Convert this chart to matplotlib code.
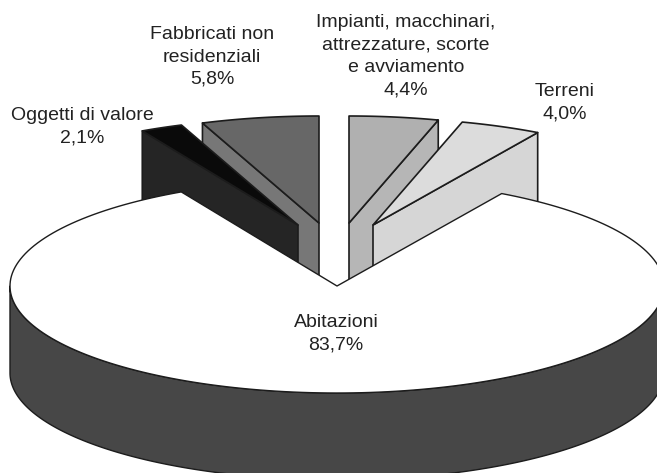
import numpy as np
import matplotlib
matplotlib.use("Agg")
import matplotlib.pyplot as plt
from matplotlib.patches import Polygon

plt.rcParams['font.family'] = ['Liberation Sans', 'DejaVu Sans']

#data, clockwise from the top of the pie
labels = ["Impianti, macchinari,\nattrezzature, scorte\ne avviamento\n4,4%",
          "Terreni\n4,0%",
          "Abitazioni\n83,7%",
          "Oggetti di valore\n2,1%",
          "Fabbricati non\nresidenziali\n5,8%"]
values = [4.4, 4.0, 83.7, 2.1, 5.8]

#styles and layout, all in pixels of the image
top_colors = ["#b0b0b0", "#dcdcdc", "#ffffff", "#0a0a0a", "#676767"]
side_colors = ["#b6b6b6", "#d6d6d6", "#474747", "#252525", "#777777"]
label_pos = [(406, 56), (565, 103), (336, 334), (82, 127), (212, 57)]
centers = [(349, 223), (373, 225), (337, 286), (298, 225), (319, 223)]
rx, ry = 327, 107
depth = 87

#function to get a point on the rim, angle in degrees
def rim(cx, cy, angle):
    a = np.radians(angle)
    return cx + rx * np.cos(a), cy - ry * np.sin(a)

#function to get the top face of a slice
def top_face(cx, cy, a1, a2):
    angles = np.linspace(a1, a2, 200)
    xs, ys = rim(cx, cy, angles)
    return np.vstack([[cx, cy], np.column_stack([xs, ys])])

#function to get the flat cut face of a slice
def cut_face(cx, cy, angle):
    x, y = rim(cx, cy, angle)
    return [(cx, cy), (x, y), (x, y + depth), (cx, cy + depth)]

fig = plt.figure(figsize=(6.57, 4.73), dpi=100)
ax = fig.add_axes([0, 0, 1, 1])
ax.set_xlim(0, 657)
ax.set_ylim(473, 0)
ax.axis("off")

#slice angles, going clockwise from 90 degrees
ends = 90 - np.cumsum(values) * 3.6
starts = np.concatenate([[90], ends[:-1]])

edge = "#1c1c1c"

def add_poly(points, color, lw=1.2):
    ax.add_patch(Polygon(points, closed=True, facecolor=color, edgecolor=edge,
                         linewidth=lw, joinstyle="round"))

#small slices, back ones first
for i in [4, 3]:
    cx, cy = centers[i]
    add_poly(cut_face(cx, cy, starts[i]), side_colors[i])
    add_poly(top_face(cx, cy, starts[i], ends[i]), top_colors[i])
for i in [0, 1]:
    cx, cy = centers[i]
    add_poly(cut_face(cx, cy, ends[i]), side_colors[i])
    add_poly(top_face(cx, cy, starts[i], ends[i]), top_colors[i])

#main slice, wall then top
cx, cy = centers[2]
wall = np.linspace(180, 360, 300)
xs, ys = rim(cx, cy, wall)
wall_points = np.vstack([np.column_stack([xs, ys + depth]),
                         np.column_stack([xs, ys])[::-1]])
add_poly(wall_points, side_colors[2], lw=1.0)
add_poly(top_face(cx, cy, starts[2], ends[2]), top_colors[2], lw=1.0)

for label, pos in zip(labels, label_pos):
    ax.text(pos[0], pos[1], label, ha="center", va="center", fontsize=14,
            color="#222222", linespacing=1.42)

fig.savefig("out.png", dpi=100)
